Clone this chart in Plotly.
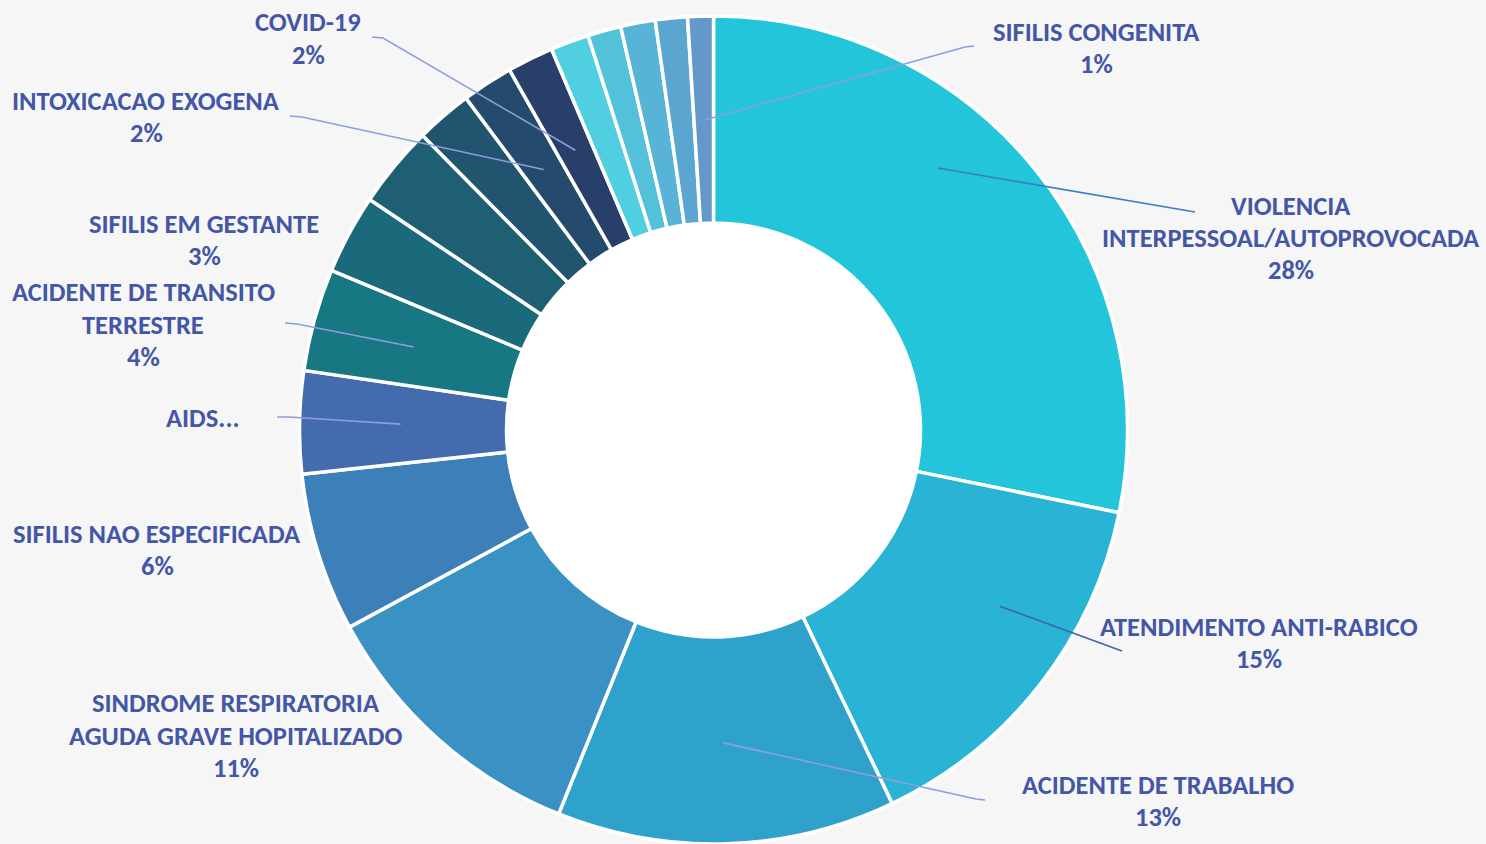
import math
import plotly.graph_objects as go

W, H = 1486, 844

# ---------------- data ----------------
categories = [
    "VIOLENCIA INTERPESSOAL/AUTOPROVOCADA",
    "ATENDIMENTO ANTI-RABICO",
    "ACIDENTE DE TRABALHO",
    "SINDROME RESPIRATORIA AGUDA GRAVE HOPITALIZADO",
    "SIFILIS NAO ESPECIFICADA",
    "AIDS",
    "ACIDENTE DE TRANSITO TERRESTRE",
    "SIFILIS EM GESTANTE",
    "AGRAVO NAO ROTULADO 1",
    "AGRAVO NAO ROTULADO 2",
    "INTOXICACAO EXOGENA",
    "COVID-19",
    "AGRAVO NAO ROTULADO 3",
    "AGRAVO NAO ROTULADO 4",
    "AGRAVO NAO ROTULADO 5",
    "AGRAVO NAO ROTULADO 6",
    "SIFILIS CONGENITA",
]
values = [28.2, 14.7, 13.2, 11.0, 6.2, 4.0, 4.0, 3.1, 3.2, 2.2, 2.0, 1.8,
          1.5, 1.3, 1.35, 1.25, 1.0]
slice_colors = [
    "#22c5da", "#29b3d4", "#2fa2cb", "#3a91c3", "#3d7fb8", "#446bae",
    "#177883", "#1b6a7b", "#1e5f74", "#21546e", "#244a6c", "#283f69",
    "#4fcfe0", "#53c1da", "#57b4d6", "#5ba6d1", "#6398c9",
]

# Displayed label lines (without percentage)
label_names = {
    0: ["VIOLENCIA", "INTERPESSOAL/AUTOPROVOCADA"],
    1: ["ATENDIMENTO ANTI-RABICO"],
    2: ["ACIDENTE DE TRABALHO"],
    3: ["SINDROME RESPIRATORIA", "AGUDA GRAVE HOPITALIZADO"],
    4: ["SIFILIS NAO ESPECIFICADA"],
    5: ["AIDS..."],
    6: ["ACIDENTE DE TRANSITO", "TERRESTRE"],
    7: ["SIFILIS EM GESTANTE"],
    10: ["INTOXICACAO EXOGENA"],
    11: ["COVID-19"],
    16: ["SIFILIS CONGENITA"],
}
show_percent = {5: False}

# ---------------- layout (pixel positions) ----------------
CX, CY, R_OUT, HOLE = 713.5, 430.0, 414.0, 0.5
TEXT_COLOR = "#4456a6"
BG = "#f6f6f7"
FONT = "Carlito, Lato, sans-serif"
FONT_SIZE = 26.5

# label index -> (center x, [line y centers], leader elbow points from label side,
#                 line colour, anchor fraction within slice, anchor radius px)
label_layout = {
    0: (1291, [206, 238, 270], [(1195, 212)], "#3b7cc4", 0.40, 345),
    1: (1259, [627, 659], [(1122, 651)], "#3e66ad", 0.38, 336),
    2: (1158, [785, 817], [(985, 800), (976, 799)], "#8d9ee0", 0.5, 313),
    3: (236, [703, 736, 768], [], None, 0.5, 312),
    4: (157, [534, 566], [], None, 0.5, 312),
    5: (203, [418], [(277, 417), (289, 417)], "#8d9ee0", 0.5, 313),
    6: (143, [292, 325, 357], [(285, 323), (297, 324)], "#8d9ee0", 0.5, 311),
    7: (204, [224, 256], [], None, 0.5, 312),
    10: (146, [101, 133], [(290, 116), (302, 117)], "#8d9ee0", 0.5, 311),
    11: (308, [22, 55], [(372, 37), (383, 38)], "#8d9ee0", 0.5, 312),
    16: (1096, [32, 64], [(974, 46), (965, 47)], "#8d9ee0", 0.5, 310),
}


def px(x, y):
    return x / W, 1 - y / H


total = sum(values)

fig = go.Figure()
fig.add_trace(go.Pie(
    labels=categories,
    values=values,
    sort=False,
    direction="clockwise",
    rotation=0,
    hole=HOLE,
    textinfo="none",
    marker=dict(colors=slice_colors, line=dict(color="#ffffff", width=3.5)),
    domain=dict(x=[(CX - R_OUT) / W, (CX + R_OUT) / W],
                y=[(H - CY - R_OUT) / H, (H - CY + R_OUT) / H]),
    showlegend=False,
))

annotations = []
shapes = []

# white hole background
hx0, hy0 = px(CX - R_OUT * HOLE, CY - R_OUT * HOLE)
hx1, hy1 = px(CX + R_OUT * HOLE, CY + R_OUT * HOLE)
shapes.append(dict(type="circle", xref="paper", yref="paper", x0=hx0, y0=hy1,
                   x1=hx1, y1=hy0, fillcolor="#ffffff", line=dict(width=0),
                   layer="below"))

starts = []
cum = 0.0
for v in values:
    starts.append(cum)
    cum += v

for idx, names in label_names.items():
    cxl, ys, elbows, lcol, frac, rad = label_layout[idx]
    pct = round(values[idx] / total * 100)
    lines = list(names)
    if show_percent.get(idx, True):
        lines.append(f"{pct}%")
    for t, yy in zip(lines, ys):
        ax_, ay_ = px(cxl, yy)
        annotations.append(dict(
            text=f"<b>{t}</b>", x=ax_, y=ay_, xref="paper", yref="paper",
            xanchor="center", yanchor="middle", showarrow=False,
            font=dict(family=FONT, size=FONT_SIZE, color=TEXT_COLOR)))
    if elbows:
        th = 2 * math.pi * (starts[idx] + frac * values[idx]) / total
        sx = CX + rad * math.sin(th)
        sy = CY - rad * math.cos(th)
        pts = list(elbows) + [(sx, sy)]
        path = ""
        for i, (x, y) in enumerate(pts):
            X, Y = px(x, y)
            path += ("M" if i == 0 else " L") + f" {X:.5f} {Y:.5f}"
        shapes.append(dict(type="path", xref="paper", yref="paper", path=path,
                           line=dict(color=lcol, width=1.6), layer="above"))

fig.update_layout(
    width=W, height=H,
    margin=dict(l=0, r=0, t=0, b=0),
    paper_bgcolor=BG,
    plot_bgcolor=BG,
    annotations=annotations,
    shapes=shapes,
)

fig.write_html(
    "out.html",
    config={"displayModeBar": False},
    post_script=(
        "document.body.style.margin='0';"
        "document.body.style.padding='0';"
        f"document.body.style.background='{BG}';"
        "document.body.style.overflow='hidden';"
    ),
)
